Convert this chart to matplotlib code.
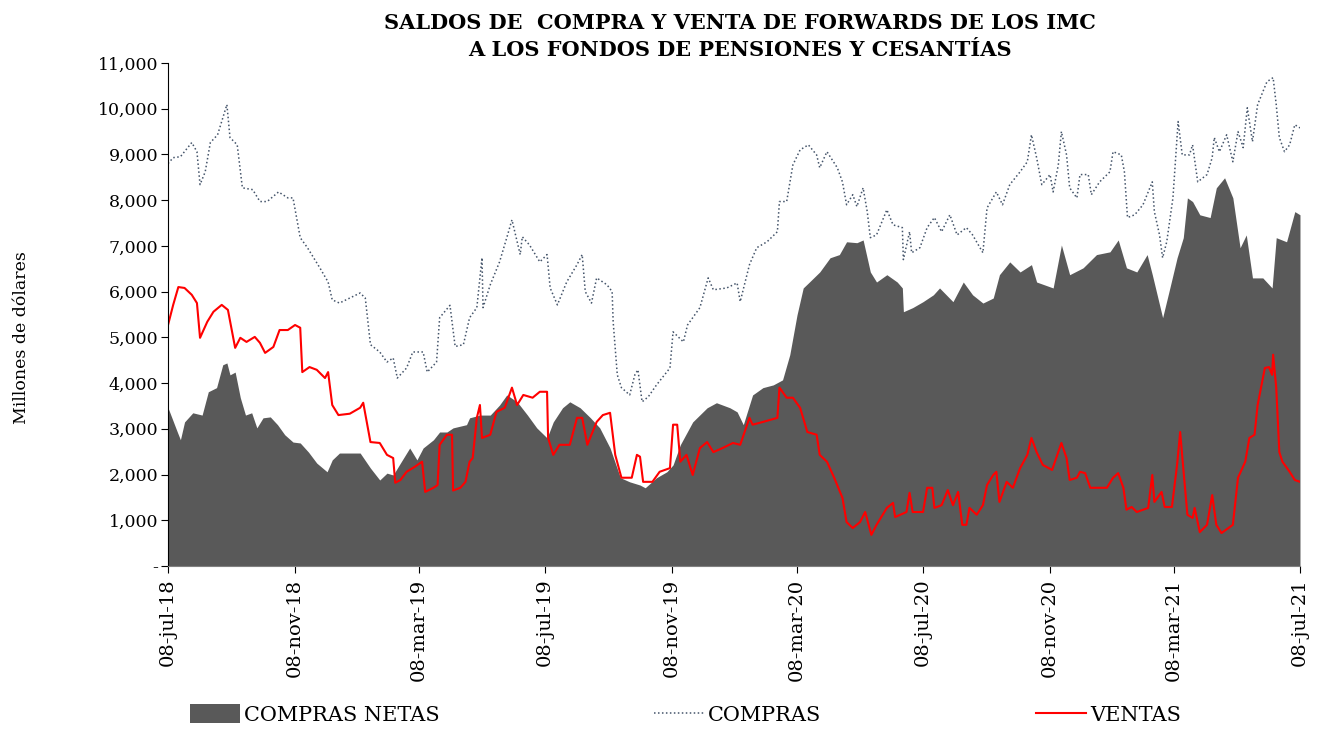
import numpy as np
import pandas as pd
import matplotlib
matplotlib.use("Agg")
import matplotlib.pyplot as plt
from matplotlib.ticker import FuncFormatter

plt.rcParams['font.family'] = ['DejaVu Serif']

inicio = pd.Timestamp('2018-07-08')

# Saldos (millones de USD); dias contados desde 08-jul-18
dias_compras = [0, 5, 12, 23, 28, 31, 36, 41, 48, 57, 60, 67, 72, 82, 89, 96, 107, 116, 121, 128,
                135, 147, 155, 159, 166, 176, 186, 191, 196, 205, 212, 218, 222, 231, 237, 247, 251, 260, 263, 273,
                278, 286, 292, 299, 304, 305, 312, 321, 328, 333, 341, 343, 350, 360, 367, 370, 377, 386, 396, 401,
                404, 410, 415, 425, 430, 431, 435, 439, 447, 452, 455, 459, 465, 473, 486, 489, 499, 503, 515, 523,
                528, 541, 551, 554, 563, 570, 580, 590, 592, 599, 605, 612, 620, 628, 631, 638, 648, 653, 657, 663,
                667, 673, 677, 680, 686, 696, 702, 711, 712, 718, 720, 728, 735, 742, 749, 757, 764, 773, 779, 789,
                793, 802, 808, 815, 825, 832, 836, 841, 846, 854, 857, 862, 865, 870, 873, 880, 883, 891, 894, 902,
                912, 915, 923, 926, 929, 936, 944, 953, 955, 960, 963, 967, 973, 978, 982, 989, 992, 997, 1006, 1011,
                1013, 1018, 1025, 1031, 1036, 1041, 1045, 1050, 1055, 1064, 1070, 1073, 1076, 1081, 1086, 1091, 1096]
compras = [8800, 8930, 8950, 9260, 9060, 8340, 8620, 9260, 9430, 10090, 9370, 9210, 8270, 8230, 7970, 7970, 8180, 8050, 8050, 7180,
           6960, 6520, 6210, 5820, 5750, 5860, 5970, 5860, 4840, 4680, 4460, 4550, 4110, 4330, 4680, 4680, 4240, 4460, 5430, 5700,
           4800, 4840, 5430, 5650, 6740, 5650, 6150, 6650, 7180, 7570, 6810, 7200, 7020, 6650, 6810, 6080, 5710, 6210, 6590, 6810,
           6000, 5750, 6300, 6150, 6000, 5340, 4180, 3900, 3740, 4180, 4290, 3590, 3700, 3960, 4330, 5120, 4900, 5270, 5650, 6300,
           6040, 6080, 6190, 5780, 6590, 6960, 7090, 7310, 7970, 7970, 8770, 9100, 9210, 8990, 8710, 9060, 8710, 8400, 7900, 8120,
           7860, 8270, 7750, 7180, 7240, 7790, 7460, 7400, 6700, 7310, 6850, 6960, 7400, 7620, 7310, 7680, 7240, 7400, 7240, 6850,
           7830, 8180, 7900, 8340, 8620, 8840, 9430, 8930, 8340, 8560, 8180, 8770, 9500, 8990, 8270, 8050, 8560, 8560, 8120, 8400,
           8620, 9060, 8990, 8620, 7620, 7680, 7900, 8400, 7750, 7240, 6740, 7090, 8050, 9720, 8990, 8990, 9210, 8400, 8560, 8930,
           9370, 9060, 9430, 8840, 9500, 9150, 10020, 9280, 10090, 10590, 10680, 10090, 9370, 9060, 9210, 9650, 9580]

dias_netas = [0, 9, 12, 16, 24, 33, 39, 47, 53, 57, 60, 65, 70, 75, 81, 86, 92, 99, 106, 113,
              121, 128, 136, 144, 154, 159, 166, 176, 186, 196, 205, 212, 218, 225, 234, 241, 247, 257, 263, 270,
              276, 289, 292, 302, 312, 321, 328, 338, 348, 357, 367, 373, 382, 389, 399, 409, 418, 428, 438, 447,
              457, 462, 473, 483, 489, 496, 508, 522, 531, 544, 551, 557, 566, 576, 586, 595, 602, 609, 615, 621,
              631, 641, 650, 657, 667, 673, 680, 686, 696, 706, 711, 712, 721, 731, 741, 747, 760, 770, 779, 789,
              799, 805, 815, 825, 836, 841, 857, 865, 873, 886, 899, 912, 920, 928, 938, 948, 953, 963, 970, 977,
              983, 987, 992, 999, 1009, 1015, 1023, 1031, 1038, 1044, 1050, 1060, 1069, 1073, 1083, 1091, 1096]
netas = [3460, 2930, 2760, 3150, 3350, 3300, 3810, 3900, 4400, 4440, 4180, 4240, 3680, 3300, 3350, 3020, 3240, 3260, 3090, 2870,
         2710, 2690, 2490, 2250, 2060, 2320, 2470, 2470, 2470, 2140, 1880, 2030, 1990, 2250, 2580, 2320, 2580, 2760, 2930, 2930,
         3020, 3090, 3240, 3300, 3300, 3520, 3740, 3590, 3300, 3020, 2800, 3150, 3460, 3590, 3460, 3240, 3020, 2580, 1930, 1840,
         1770, 1710, 1930, 2060, 2210, 2650, 3150, 3460, 3570, 3460, 3370, 3090, 3740, 3900, 3960, 4070, 4620, 5490, 6080, 6210,
         6430, 6740, 6810, 7090, 7070, 7130, 6430, 6210, 6370, 6210, 6080, 5560, 5650, 5780, 5930, 6080, 5780, 6210, 5930, 5750,
         5860, 6370, 6650, 6430, 6590, 6210, 6080, 7020, 6370, 6520, 6810, 6870, 7130, 6520, 6430, 6810, 6370, 5430, 6080, 6740,
         7180, 8050, 7970, 7680, 7620, 8270, 8490, 8050, 6960, 7240, 6300, 6300, 6080, 7180, 7090, 7750, 7680]

dias_ventas = [0, 5, 10, 16, 23, 28, 31, 38, 44, 52, 58, 62, 65, 70, 76, 84, 89, 94, 102, 108,
               116, 123, 128, 130, 137, 144, 152, 155, 159, 165, 176, 186, 189, 196, 205, 212, 218, 220, 225, 231,
               239, 246, 249, 257, 261, 263, 270, 275, 276, 283, 288, 292, 295, 299, 302, 304, 312, 318, 326, 333,
               338, 344, 353, 360, 367, 368, 373, 379, 389, 396, 401, 406, 415, 421, 428, 433, 439, 449, 454, 457,
               460, 469, 476, 486, 489, 493, 496, 502, 508, 515, 522, 528, 537, 547, 554, 563, 566, 576, 590, 592,
               599, 605, 612, 619, 628, 631, 638, 645, 653, 657, 663, 670, 675, 681, 686, 696, 702, 704, 715, 718,
               721, 731, 735, 740, 742, 749, 755, 760, 765, 769, 773, 776, 783, 789, 793, 799, 802, 805, 812, 818,
               825, 832, 836, 841, 847, 856, 861, 865, 870, 873, 880, 883, 888, 893, 909, 915, 920, 925, 928, 933,
               938, 949, 953, 955, 962, 965, 972, 977, 980, 983, 987, 992, 994, 999, 1006, 1011, 1015, 1020, 1031, 1036,
               1043, 1047, 1052, 1055, 1062, 1066, 1069, 1070, 1073, 1076, 1079, 1086, 1091, 1096]
ventas = [5270, 5710, 6100, 6080, 5930, 5750, 4990, 5340, 5560, 5710, 5600, 5120, 4770, 4990, 4900, 5010, 4880, 4660, 4790, 5160,
          5160, 5270, 5210, 4240, 4350, 4290, 4110, 4240, 3520, 3300, 3330, 3460, 3570, 2710, 2690, 2430, 2360, 1820, 1880, 2060,
          2170, 2280, 1620, 1710, 1770, 2650, 2870, 2870, 1650, 1710, 1840, 2280, 2360, 3240, 3520, 2800, 2870, 3370, 3460, 3900,
          3520, 3740, 3680, 3810, 3810, 2800, 2430, 2650, 2650, 3240, 3240, 2650, 3150, 3300, 3350, 2430, 1930, 1930, 2430, 2390,
          1840, 1840, 2060, 2140, 3090, 3090, 2280, 2430, 1990, 2580, 2710, 2490, 2580, 2690, 2650, 3240, 3090, 3150, 3240, 3900,
          3680, 3680, 3460, 2930, 2870, 2430, 2280, 1930, 1490, 960, 830, 960, 1180, 680, 900, 1270, 1380, 1070, 1180, 1600,
          1180, 1180, 1710, 1710, 1270, 1330, 1660, 1330, 1620, 900, 900, 1270, 1120, 1330, 1770, 1990, 2060, 1400, 1840, 1710,
          2140, 2430, 2800, 2490, 2210, 2100, 2430, 2690, 2360, 1880, 1930, 2060, 2030, 1710, 1710, 1930, 2030, 1710, 1230, 1290,
          1180, 1270, 1990, 1400, 1620, 1290, 1290, 2210, 2930, 2140, 1120, 1050, 1270, 740, 900, 1550, 900, 720, 900, 1930,
          2280, 2800, 2870, 3520, 4330, 4350, 4180, 4620, 3900, 2490, 2280, 2060, 1880, 1840]

fechas_compras = inicio + pd.to_timedelta(dias_compras, unit='D')
fechas_netas = inicio + pd.to_timedelta(dias_netas, unit='D')
fechas_ventas = inicio + pd.to_timedelta(dias_ventas, unit='D')

fig = plt.figure(figsize=(13.23, 7.3), dpi=100)
ax = fig.add_axes([0.127, 0.2247, 0.8556, 0.689])

ax.fill_between(fechas_netas, netas, 0, color='#595959', linewidth=0, label='COMPRAS NETAS')
ax.plot(fechas_compras, compras, color='#44546A', linewidth=1.1, linestyle=(0, (1, 1.6)), label='COMPRAS')
ax.plot(fechas_ventas, ventas, color='#FF0000', linewidth=1.5, label='VENTAS')

ax.set_xlim(inicio, pd.Timestamp('2021-07-08'))
ax.set_ylim(0, 11000)
ax.set_yticks(np.arange(0, 11001, 1000))
ax.yaxis.set_major_formatter(FuncFormatter(lambda v, p: '-' if v == 0 else f'{int(v):,}'))

# marcas cada cuatro meses, el dia 8
ticks = pd.date_range('2018-07-01', '2021-07-01', freq='4MS') + pd.Timedelta(days=7)
nombres = {3: 'mar', 7: 'jul', 11: 'nov'}
ax.set_xticks(ticks)
ax.set_xticklabels([f"08-{nombres[t.month]}-{t.strftime('%y')}" for t in ticks], rotation=90)

ax.tick_params(axis='y', labelsize=12.5, length=5, direction='out', pad=2)
ax.tick_params(axis='x', labelsize=14, length=5, direction='out', pad=4)
for s in ['top', 'right']:
    ax.spines[s].set_visible(False)
ax.spines['left'].set_color('#000000')
ax.spines['bottom'].set_color('#808080')

fig.text(0.0166, 0.537, 'Millones de dólares', rotation=90, ha='center', va='center', fontsize=12.5)

fig.text(0.559, 0.968, 'SALDOS DE  COMPRA Y VENTA DE FORWARDS DE LOS IMC',
         ha='center', va='center', fontsize=15, fontweight='bold')
fig.text(0.559, 0.932, 'A LOS FONDOS DE PENSIONES Y CESANTÍAS',
         ha='center', va='center', fontsize=15, fontweight='bold')

fig.legend(loc='center', bbox_to_anchor=(0.518, 0.021), ncol=3, frameon=False,
           fontsize=15, handlelength=2.4, handleheight=1.0, columnspacing=10.3, handletextpad=0.2)

fig.savefig('out.png', dpi=100)
